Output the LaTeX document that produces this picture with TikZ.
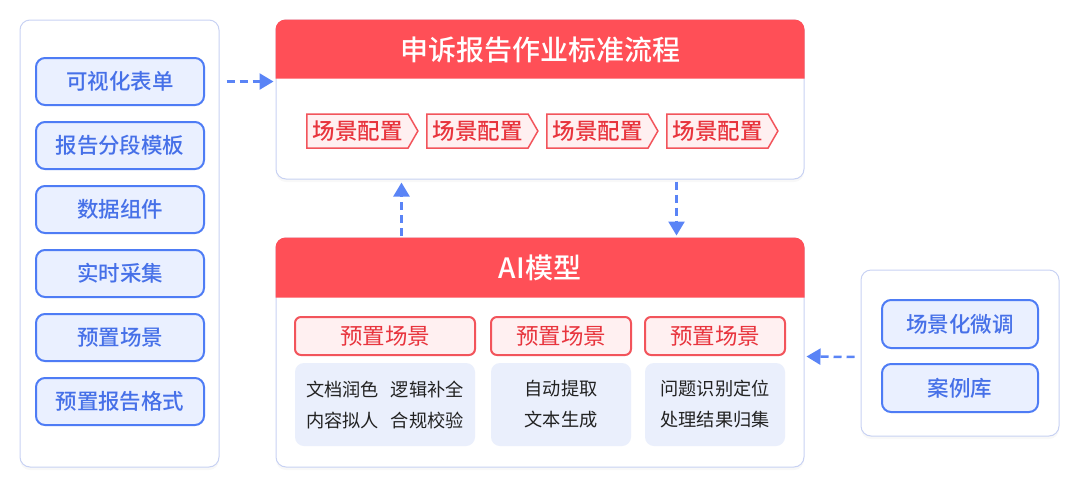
\documentclass[tikz,border=0pt]{standalone}
\usepackage{fontspec}
\setmainfont{Noto Sans CJK SC}
\newfontfamily\medfont{Noto Sans CJK SC Medium}
\usetikzlibrary{positioning,shapes.symbols,shadows,arrows.meta}

\definecolor{hdred}{HTML}{FF4F57}
\definecolor{panelline}{HTML}{C8D2F3}
\definecolor{toolblue}{HTML}{4E7CF5}
\definecolor{toolfill}{HTML}{EAF0FF}
\definecolor{tooltext}{HTML}{4670E8}
\definecolor{chevline}{HTML}{F2545B}
\definecolor{chevfill}{HTML}{FFF0F1}
\definecolor{chevtext}{HTML}{E8343D}
\definecolor{cardfill}{HTML}{EAEFFC}
\definecolor{cardtext}{HTML}{222222}
\definecolor{flowblue}{HTML}{5A84F6}

\begin{document}
\begin{tikzpicture}[x=1pt, y=-1pt, every node/.style={font=\fontsize{21.5}{24}\selectfont\medfont},
    panel/.style={draw=panelline, fill=white, line width=1pt, rounded corners=10pt,
        drop shadow={opacity=0.06, shadow xshift=0pt, shadow yshift=-3pt}},
    tool/.style={draw=toolblue, fill=toolfill, text=tooltext, line width=2pt,
        rounded corners=9pt, minimum height=47pt, inner sep=0pt},
    chev/.style={signal, signal to=east, signal pointer angle=120, draw=chevline,
        fill=chevfill, text=chevtext, line width=1.5pt, minimum width=111pt,
        minimum height=34pt, inner sep=0pt, font=\fontsize{22.5}{24}\selectfont\medfont},
    scene/.style={draw=chevline, fill=chevfill, text=chevtext, line width=2pt,
        rounded corners=6pt, minimum height=38pt, inner sep=0pt,
        font=\fontsize{22.5}{24}\selectfont},
    card/.style={fill=cardfill, text=cardtext, rounded corners=9pt, minimum height=83pt,
        inner sep=0pt, align=center, font=\fontsize{18.2}{31}\selectfont},
    title/.style={text=white, font=\fontsize{28}{30}\selectfont\medfont},
    flow/.style={draw=flowblue, line width=2.5pt, dash pattern=on 8pt off 5pt,
        -{Triangle[length=14pt,width=16pt]}}]
    \useasboundingbox (0,0) rectangle (1080,491);

    \node[panel, minimum width=199pt, minimum height=447pt] (lpanel) at (119.5,243.5) {};
    \foreach \y/\lbl/\nm in {81.5/可视化表单/v1,145.5/报告分段模板/v2,209.5/数据组件/v3,
        273.5/实时采集/v4,337.5/预置场景/v5,401.5/预置报告格式/v6} {
        \node[tool, minimum width=168pt] (\nm) at (120,\y) {\lbl};
    }

    \node[panel, minimum width=528pt, minimum height=159pt] (top) at (540,99.5) {};
    \fill[hdred] ([yshift=-59pt]top.north west) [rounded corners=10pt] -- (top.north west)
        -- (top.north east) [sharp corners] -- ([yshift=-59pt]top.north east) -- cycle;
    \node[title] (toptitle) at ([yshift=-30pt]top.north) {申诉报告作业标准流程};
    \foreach \x/\nm in {357.5/c1,477.5/c2,597.5/c3,717.5/c4} {
        \node[chev] (\nm) at (\x,131) {场景配置};
    }

    \node[panel, minimum width=528pt, minimum height=229pt] (ai) at (540,352.5) {};
    \fill[hdred] ([yshift=-60pt]ai.north west) [rounded corners=10pt] -- (ai.north west)
        -- (ai.north east) [sharp corners] -- ([yshift=-60pt]ai.north east) -- cycle;
    \node[title] (aititle) at ([yshift=-30pt]ai.north) {AI模型};

    \node[scene, minimum width=180pt] (s1) at (385,336) {预置场景};
    \node[scene, minimum width=140pt] (s2) at (561,336) {预置场景};
    \node[scene, minimum width=140pt] (s3) at (715,336) {预置场景};
    \node[card, minimum width=180pt] (k1) at (385,404.5)
        {文档润色\hspace{12pt}逻辑补全\\内容拟人\hspace{12pt}合规校验};
    \node[card, minimum width=140pt] (k2) at (561,404.5) {自动提取\\文本生成};
    \node[card, minimum width=140pt] (k3) at (715,404.5) {问题识别定位\\处理结果归集};

    \node[panel, minimum width=198pt, minimum height=166pt] (rpanel) at (960,353) {};
    \node[tool, minimum width=156pt, minimum height=48pt] (r1) at (960,324) {场景化微调};
    \node[tool, minimum width=156pt, minimum height=48pt] (r2) at (960,388) {案例库};

    \draw[flow, shorten <=7pt, shorten >=2pt] (lpanel.east |- v1) -- (top.west |- v1);
    \draw[flow, shorten <=2pt, shorten >=3pt] ([xshift=126pt]ai.north west) -- ([xshift=126pt]top.south west);
    \draw[flow, shorten <=2pt, shorten >=2pt] ([xshift=401pt]top.south west) -- ([xshift=401pt]ai.north west);
    \draw[flow, shorten <=6pt, shorten >=2pt] ([yshift=-4pt]rpanel.west) -- ([yshift=-4pt]ai.east);
\end{tikzpicture}
\end{document}
